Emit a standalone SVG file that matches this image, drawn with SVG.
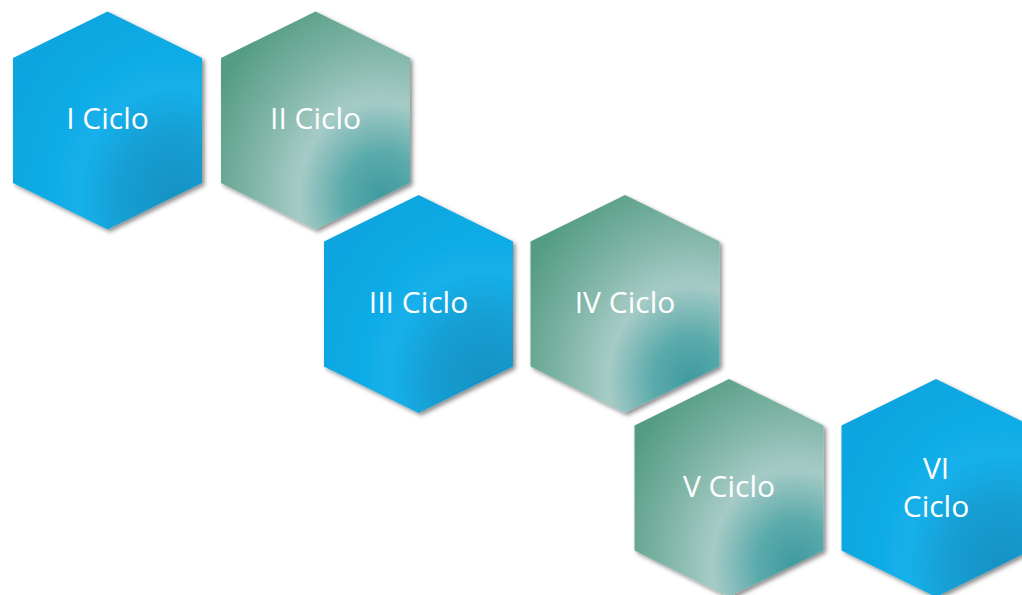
<svg xmlns="http://www.w3.org/2000/svg" width="1022" height="595" viewBox="0 0 1022 595">
<defs>
<radialGradient id="gBlue" cx="0.85" cy="0.85" r="1" fx="0.85" fy="0.85">
<stop offset="0" stop-color="#1592C4"/>
<stop offset="0.28" stop-color="#169ED2"/>
<stop offset="0.5" stop-color="#13B0EA"/>
<stop offset="0.78" stop-color="#0FA9E3"/>
<stop offset="1" stop-color="#0CA4E0"/>
</radialGradient>
<radialGradient id="gTeal" cx="0.85" cy="0.85" r="1" fx="0.85" fy="0.85">
<stop offset="0" stop-color="#3F9AA0"/>
<stop offset="0.2" stop-color="#5AAAAB"/>
<stop offset="0.44" stop-color="#A6CBC6"/>
<stop offset="0.72" stop-color="#7AB2A2"/>
<stop offset="1" stop-color="#559C84"/>
</radialGradient>
<filter id="sh" x="-10%" y="-10%" width="125%" height="125%">
<feDropShadow dx="2.5" dy="2.5" stdDeviation="2" flood-color="#000" flood-opacity="0.45"/>
</filter>
<polygon id="hex" points="0,-109 94.5,-62.5 94.5,62.5 0,109 -94.5,62.5 -94.5,-62.5"/>
</defs>
<style>
.blue{fill:url(#gBlue);filter:url(#sh)}
.teal{fill:url(#gTeal);filter:url(#sh)}
text{font-family:"Open Sans","Liberation Sans",sans-serif;font-size:30px;fill:#fff;text-anchor:middle}
</style>
<g id="connectors"/>
<g id="n1" transform="translate(107.5,120.5)"><use href="#hex" class="blue"/><text x="0" y="8.5">I Ciclo</text></g>
<g id="n2" transform="translate(315.5,120.5)"><use href="#hex" class="teal"/><text x="0" y="8.5">II Ciclo</text></g>
<g id="n3" transform="translate(418.5,304)"><use href="#hex" class="blue"/><text x="0" y="8.5">III Ciclo</text></g>
<g id="n4" transform="translate(625,304)"><use href="#hex" class="teal"/><text x="0" y="8.5">IV Ciclo</text></g>
<g id="n5" transform="translate(729,488)"><use href="#hex" class="teal"/><text x="0" y="8.5">V Ciclo</text></g>
<g id="n6" transform="translate(936,488)"><use href="#hex" class="blue"/><text x="0" y="-9.5">VI</text><text x="0" y="28.5">Ciclo</text></g>
</svg>
